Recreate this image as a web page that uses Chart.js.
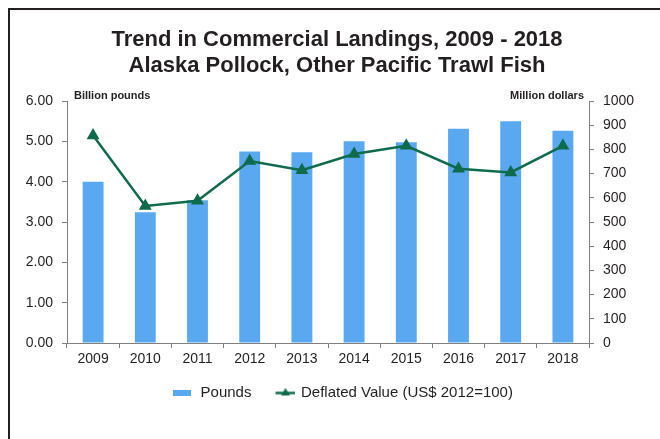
<!DOCTYPE html>
<html>
<head>
<meta charset="utf-8">
<script src="https://cdn.jsdelivr.net/npm/chart.js@4.4.1/dist/chart.umd.min.js"></script>
<style>
  html, body { margin: 0; padding: 0; background: #ffffff; }
  #wrap { position: relative; width: 660px; height: 439px; overflow: hidden; }
  #frame { position: absolute; left: 8px; top: 8px; width: 700px; height: 500px; border: 2.5px solid #231f20; box-sizing: border-box; }
  canvas { position: absolute; left: 0; top: 0; }
</style>
</head>
<body>
<div id="wrap">
  <div id="frame"></div>
  <canvas id="c" width="660" height="439"></canvas>
</div>
<script>
const titleLines = ['Trend in Commercial Landings, 2009 - 2018', 'Alaska Pollock, Other Pacific Trawl Fish'];
const years = ['2009','2010','2011','2012','2013','2014','2015','2016','2017','2018'];
const poundsBillions = [4.00, 3.24, 3.54, 4.75, 4.73, 5.00, 4.98, 5.31, 5.50, 5.26];
const deflatedValueMillions = [857, 566, 588, 752, 714, 781, 815, 720, 705, 815];
const leftAxisTitle = 'Billion pounds';
const rightAxisTitle = 'Million dollars';
const seriesNames = ['Pounds', 'Deflated Value (US$ 2012=100)'];

const BAR_COLOR = '#5aa9f0';
const LINE_COLOR = '#0f6b4c';
const FONT = '"Liberation Sans", Arial, Helvetica, sans-serif';

function makeBarIcon() {
  const cv = document.createElement('canvas');
  cv.width = 18; cv.height = 6;
  const x = cv.getContext('2d');
  x.fillStyle = BAR_COLOR; x.fillRect(0, 0, 18, 6);
  return cv;
}
function makeLineIcon() {
  const cv = document.createElement('canvas');
  cv.width = 26; cv.height = 12;
  const x = cv.getContext('2d');
  x.strokeStyle = LINE_COLOR; x.lineWidth = 2.5;
  x.beginPath(); x.moveTo(6, 6.5); x.lineTo(26, 6.5); x.stroke();
  x.fillStyle = LINE_COLOR;
  x.beginPath(); x.moveTo(16, 1.5); x.lineTo(20.5, 9); x.lineTo(11.5, 9); x.closePath(); x.fill();
  return cv;
}

const textPlugin = {
  id: 'texts',
  afterLayout(chart) {
    // centre the legend row where the reference puts it
    if (chart.legend) { chart.legend.left += 12; chart.legend.right += 12; }
  },
  afterDraw(chart) {
    const ctx = chart.ctx;
    ctx.save();
    ctx.fillStyle = '#231f20';
    ctx.textAlign = 'center';
    ctx.textBaseline = 'middle';
    ctx.font = 'bold 22px ' + FONT;
    ctx.fillText(titleLines[0], 337, 40);
    ctx.fillText(titleLines[1], 337, 66);
    ctx.font = 'bold 11px ' + FONT;
    ctx.textAlign = 'left';
    ctx.fillText(leftAxisTitle, 74, 96);
    ctx.textAlign = 'right';
    ctx.fillText(rightAxisTitle, 584, 96);
    ctx.restore();
  }
};

const barIcon = makeBarIcon();
const lineIcon = makeLineIcon();

new Chart(document.getElementById('c'), {
  type: 'bar',
  data: {
    labels: years,
    datasets: [
      {
        type: 'bar',
        label: seriesNames[0],
        data: poundsBillions,
        backgroundColor: BAR_COLOR,
        borderWidth: 0,
        barPercentage: 0.4,
        categoryPercentage: 1.0,
        yAxisID: 'y',
        order: 2
      },
      {
        type: 'line',
        label: seriesNames[1],
        data: deflatedValueMillions,
        borderColor: LINE_COLOR,
        backgroundColor: LINE_COLOR,
        borderWidth: 2.5,
        tension: 0,
        pointStyle: 'triangle',
        pointRadius: 5,
        pointHoverRadius: 5,
        pointBackgroundColor: LINE_COLOR,
        pointBorderColor: LINE_COLOR,
        yAxisID: 'y1',
        order: 1
      }
    ]
  },
  options: {
    responsive: false,
    animation: false,
    devicePixelRatio: 1,
    layout: { padding: { top: 101, bottom: 29, left: 0, right: 0 } },
    plugins: {
      title: { display: false },
      tooltip: { enabled: false },
      legend: {
        display: true,
        position: 'bottom',
        labels: {
          usePointStyle: true,
          pointStyleWidth: 22,
          boxHeight: 12,
          padding: 20,
          color: '#231f20',
          font: { family: FONT, size: 15 },
          sort: (a, b) => a.datasetIndex - b.datasetIndex,
          generateLabels(chart) {
            return chart.data.datasets.map((ds, i) => ({
              text: ds.label,
              datasetIndex: i,
              pointStyle: i === 0 ? barIcon : lineIcon,
              fillStyle: 'rgba(0,0,0,0)',
              strokeStyle: 'rgba(0,0,0,0)',
              lineWidth: 0,
              hidden: false,
              fontColor: '#231f20'
            }));
          }
        }
      }
    },
    scales: {
      x: {
        offset: true,
        grid: { display: true, drawOnChartArea: false, drawTicks: true, tickLength: 5, offset: true, color: '#808080' },
        border: { display: true, color: '#808080', width: 1 },
        ticks: { color: '#231f20', font: { family: FONT, size: 14 }, padding: 3, maxRotation: 0 },
        afterFit(scale) { scale.height = 22; }
      },
      y: {
        position: 'left',
        min: 0, max: 6,
        grid: { display: true, drawOnChartArea: false, drawTicks: true, tickLength: 5, color: '#808080' },
        border: { display: true, color: '#808080', width: 1 },
        ticks: {
          stepSize: 1, padding: 9, color: '#231f20',
          font: { family: FONT, size: 14 },
          callback: v => Number(v).toFixed(2)
        },
        afterFit(scale) { scale.width = 67; }
      },
      y1: {
        position: 'right',
        min: 0, max: 1000,
        grid: { display: true, drawOnChartArea: false, drawTicks: true, tickLength: 5, color: '#808080' },
        border: { display: true, color: '#808080', width: 1 },
        ticks: {
          stepSize: 100, padding: 9, color: '#231f20',
          font: { family: FONT, size: 14 },
          callback: v => String(v)
        },
        afterFit(scale) { scale.width = 71; }
      }
    }
  },
  plugins: [textPlugin]
});
</script>
</body>
</html>
